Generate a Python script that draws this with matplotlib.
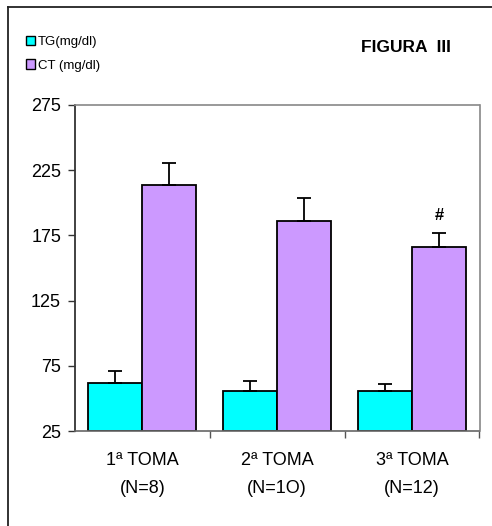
import matplotlib
matplotlib.use("Agg")
import matplotlib.pyplot as plt
from matplotlib.lines import Line2D
from matplotlib.patches import Patch
import numpy as np

plt.rcParams['font.family'] = ['Liberation Sans', 'DejaVu Sans']

categories = ["1ª TOMA\n(N=8)", "2ª TOMA\n(N=1O)", "3ª TOMA\n(N=12)"]
tg_values = [62, 55.5, 56]
tg_err = [9, 8, 5]
ct_values = [213.5, 186, 166]
ct_err = [17, 17.5, 10.5]
series_labels = ["TG(mg/dl)", "CT (mg/dl)"]
yticks = [25, 75, 125, 175, 225, 275]

W, H = 492, 526
fig = plt.figure(figsize=(W / 100, H / 100), dpi=100)
ax = fig.add_axes([75 / W, 1 - 431 / H, 404.5 / W, 326 / H])

x = np.arange(len(categories))
bw = 0.4
bottom = yticks[0]
err_kw = dict(ecolor="black", elinewidth=1.3, capsize=4.8, capthick=1.3)

tg = np.array(tg_values) - bottom
ct = np.array(ct_values) - bottom
ax.bar(x - bw / 2, tg, bw, bottom=bottom, color="#00FFFF", edgecolor="black",
       linewidth=1.3, yerr=[np.zeros(3), tg_err], error_kw=err_kw, zorder=2)
ax.bar(x + bw / 2, ct, bw, bottom=bottom, color="#CC99FF", edgecolor="black",
       linewidth=1.3, yerr=[np.zeros(3), ct_err], error_kw=err_kw, zorder=2)

# significance mark over the third CT bar
ax.text(x[2] + bw / 2, ct_values[2] + ct_err[2] + 14, "#", ha="center",
        va="center", fontsize=12, fontweight="bold")

ax.set_xlim(-0.5, 2.5)
ax.set_ylim(25, 275)
ax.set_yticks(yticks)
ax.set_yticklabels([str(v) for v in yticks], fontsize=13)
ax.set_xticks(x)
ax.set_xticklabels(categories, fontsize=13, linespacing=1.85)
ax.tick_params(axis="x", length=0, pad=15)
ax.set_xticks([0.5, 1.5, 2.5], minor=True)
ax.tick_params(axis="x", which="minor", length=5, color="#555555", width=1)
ax.tick_params(axis="y", length=5, color="#333333", width=1, pad=5)

ax.spines["left"].set_color("#333333")
ax.spines["left"].set_linewidth(1.3)
for s in ["top", "right", "bottom"]:
    ax.spines[s].set_color("#888888")
    ax.spines[s].set_linewidth(1.2)
ax.spines["bottom"].set_color("#666666")

handles = [Patch(facecolor="#00FFFF", edgecolor="black"),
           Patch(facecolor="#CC99FF", edgecolor="black")]
fig.legend(handles, series_labels, loc="upper left",
           bbox_to_anchor=(14 / W, 1 - 24 / H), frameon=False, fontsize=9.5,
           handlelength=0.7, handleheight=0.7, handletextpad=0.2,
           labelspacing=0.85)

fig.text(406 / W, 1 - 47 / H, "FIGURA  III", ha="center", va="center",
         fontsize=12.5, fontweight="bold")

# outer frame (left and top edges)
fig.add_artist(Line2D([8 / W, 8 / W], [0, 1 - 7 / H], color="#222222", lw=1.3))
fig.add_artist(Line2D([8 / W, 1], [1 - 7 / H, 1 - 7 / H], color="#222222", lw=1.3))

fig.savefig("out.png", dpi=100)
